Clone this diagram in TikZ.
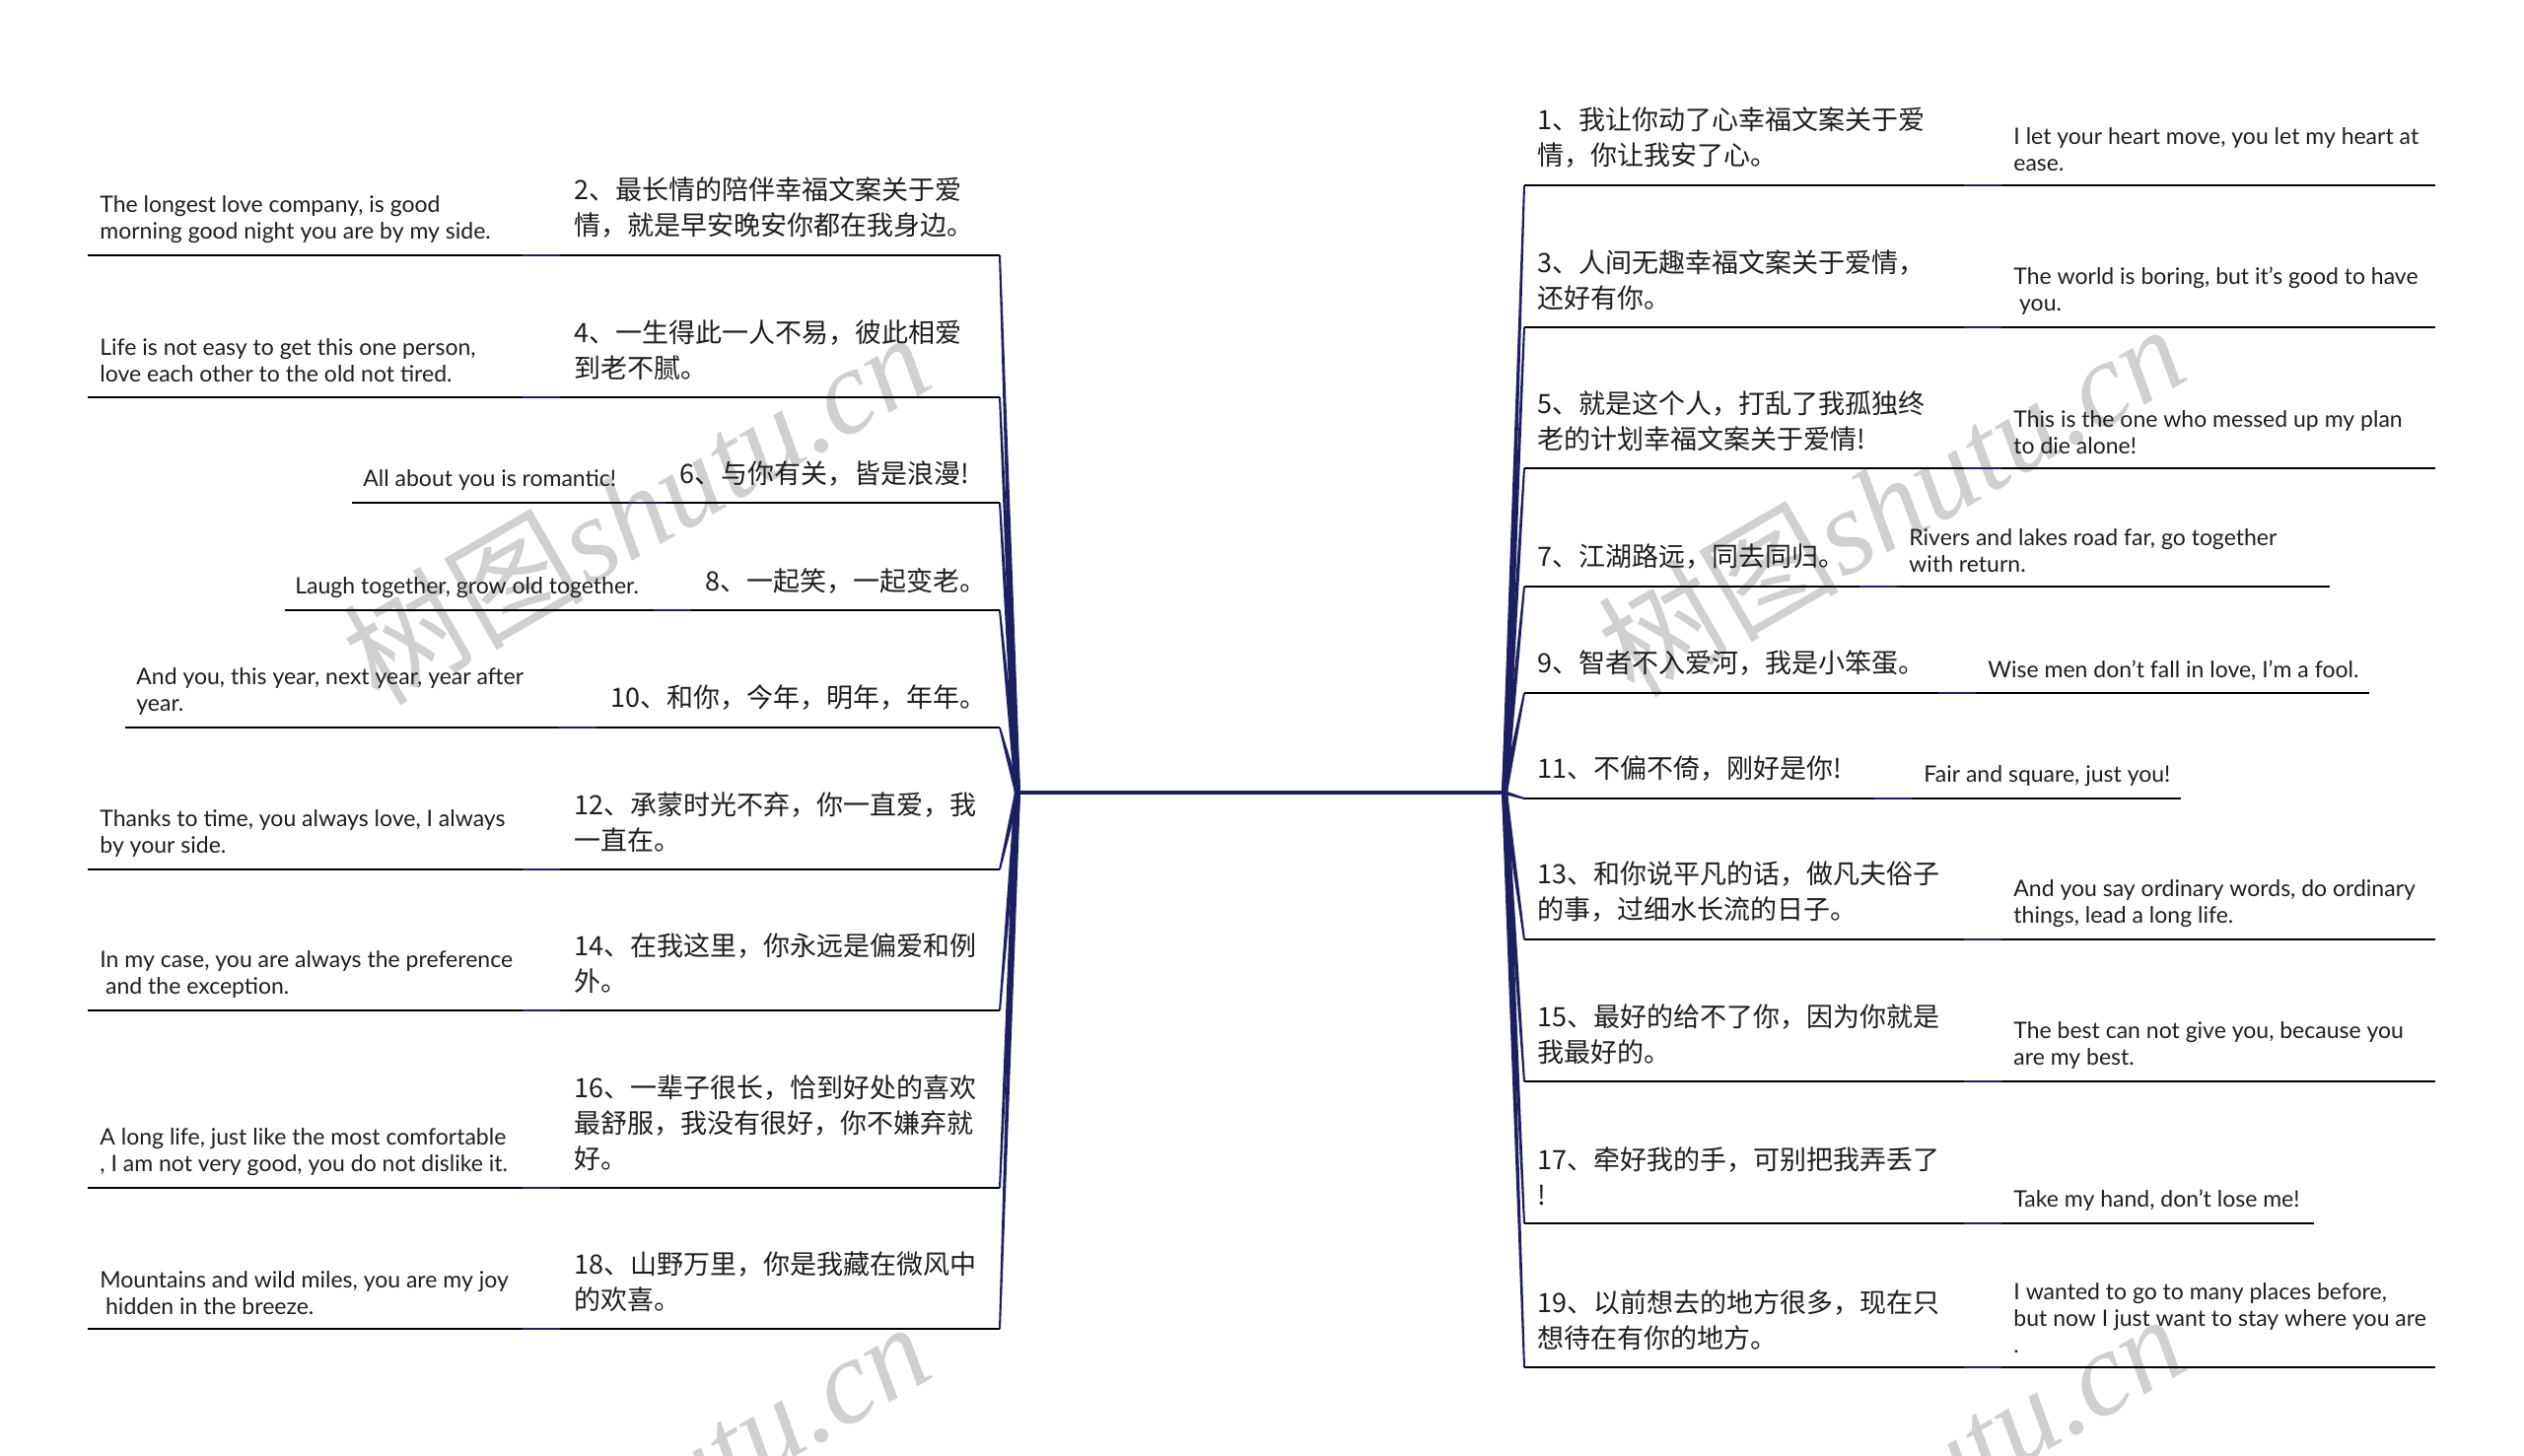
\documentclass[tikz,border=0pt]{standalone}
\usepackage{fontspec}
\setmainfont{Lato}
\newfontfamily\cjk{Noto Sans CJK SC}
\newfontfamily\wmserif{Liberation Serif}
\usetikzlibrary{calc}
\definecolor{navy}{RGB}{28,32,96}
\definecolor{txt}{RGB}{30,30,30}
\definecolor{wm}{RGB}{208,208,208}
\tikzset{
  cn/.style={font=\cjk\fontsize{13.5}{18}\selectfont, inner sep=0pt, align=left, anchor=west, text=txt},
  en/.style={font=\fontsize{11.5}{13.5}\selectfont, inner sep=0pt, align=left, anchor=west, text=txt},
  uline/.style={line width=1.3pt, black},
  link/.style={line width=1.3pt, navy},
  trunk/.style={line width=2pt, navy},
  wmark/.style={text=wm, rotate=30, inner sep=0pt},
}
\begin{document}
\begin{tikzpicture}[x=0.5pt,y=-0.5pt]
\useasboundingbox (0,0) rectangle (2560,1477);
\fill[white] (0,0) rectangle (2560,1477);
% watermark
\begin{scope}
\clip (0,0) rectangle (2560,1477);
\node[wmark] (wm1) at (645,514) {\cjk\fontsize{61}{61}\selectfont 树图\wmserif\itshape shutu.cn};
\node[wmark] (wm2) at (1918,506) {\cjk\fontsize{61}{61}\selectfont 树图\wmserif\itshape shutu.cn};
\node[wmark] (wm3) at (645,1518) {\cjk\fontsize{61}{61}\selectfont 树图\wmserif\itshape shutu.cn};
\node[wmark] (wm4) at (1918,1510) {\cjk\fontsize{61}{61}\selectfont 树图\wmserif\itshape shutu.cn};
\end{scope}

% hubs
\coordinate (hubL) at (1032,804);
\coordinate (hubR) at (1526,804);

% ---------------- left side ----------------
\coordinate (l2s) at (89,259);   \coordinate (l2e) at (1014,259);
\coordinate (l4s) at (89,403);   \coordinate (l4e) at (1014,403);
\coordinate (l6s) at (357,510);  \coordinate (l6e) at (1014,510);
\coordinate (l8s) at (289,619);  \coordinate (l8e) at (1014,619);
\coordinate (l10s) at (127,738); \coordinate (l10e) at (1014,738);
\coordinate (l12s) at (89,882);  \coordinate (l12e) at (1014,882);
\coordinate (l14s) at (89,1025); \coordinate (l14e) at (1014,1025);
\coordinate (l16s) at (89,1205); \coordinate (l16e) at (1014,1205);
\coordinate (l18s) at (89,1348); \coordinate (l18e) at (1014,1348);

\foreach \k in {2,4,6,8,10,12,14,16,18}{
  \fill[navy] ($(l\k e)+(-1,0)$) -- ($(hubL)+(-3,0)$) -- ($(hubL)+(3,0)$) -- ($(l\k e)+(1,0)$) -- cycle;
  \draw[uline] (l\k s) -- (l\k e);
}

\node[cn] (c2) at (582,211) {2、最长情的陪伴幸福文案关于爱\\情，就是早安晚安你都在我身边。};
\node[en] (e2) at (101,222.5) {The longest love company, is good\\morning good night you are by my side.};
\node[cn] (c4) at (582,355) {4、一生得此一人不易，彼此相爱\\到老不腻。};
\node[en] (e4) at (101,366) {Life is not easy to get this one person,\\love each other to the old not tired.};
\node[cn] (c6) at (689,480) {6、与你有关，皆是浪漫!};
\node[en] (e6) at (368,487) {All about you is romantic!};
\node[cn] (c8) at (715,589) {8、一起笑，一起变老。};
\node[en] (e8) at (299,596) {Laugh together, grow old together.};
\node[cn] (c10) at (619,708) {10、和你，今年，明年，年年。};
\node[en] (e10) at (138,701.5) {And you, this year, next year, year after\\year.};
\node[cn] (c12) at (582,834) {12、承蒙时光不弃，你一直爱，我\\一直在。};
\node[en] (e12) at (101,845.5) {Thanks to time, you always love, I always\\by your side.};
\node[cn] (c14) at (582,977) {14、在我这里，你永远是偏爱和例\\外。};
\node[en] (e14) at (101,988.5) {In my case, you are always the preference\\\hspace*{0.25em}and the exception.};
\node[cn] (c16) at (582,1139) {16、一辈子很长，恰到好处的喜欢\\最舒服，我没有很好，你不嫌弃就\\好。};
\node[en] (e16) at (101,1168.5) {A long life, just like the most comfortable\\, I am not very good, you do not dislike it.};
\node[cn] (c18) at (582,1300) {18、山野万里，你是我藏在微风中\\的欢喜。};
\node[en] (e18) at (101,1311.5) {Mountains and wild miles, you are my joy\\\hspace*{0.25em}hidden in the breeze.};

\foreach \k/\lx in {2/530,4/530,6/637,8/663,10/567,12/530,14/530,16/530,18/530}{
  \draw[link] (\lx,0 |- l\k e) -- (\lx+38,0 |- l\k e);
}

% ---------------- right side ----------------
\coordinate (r1s) at (1546,188);  \coordinate (r1e) at (2470,188);
\coordinate (r3s) at (1546,332);  \coordinate (r3e) at (2470,332);
\coordinate (r5s) at (1546,475);  \coordinate (r5e) at (2470,475);
\coordinate (r7s) at (1546,595);  \coordinate (r7e) at (2363,595);
\coordinate (r9s) at (1546,703);  \coordinate (r9e) at (2403,703);
\coordinate (r11s) at (1546,810); \coordinate (r11e) at (2212,810);
\coordinate (r13s) at (1546,953); \coordinate (r13e) at (2470,953);
\coordinate (r15s) at (1546,1097);\coordinate (r15e) at (2470,1097);
\coordinate (r17s) at (1546,1241);\coordinate (r17e) at (2347,1241);
\coordinate (r19s) at (1546,1387);\coordinate (r19e) at (2470,1387);

\foreach \k in {1,3,5,7,9,13,15,17,19}{
  \fill[navy] ($(r\k s)+(-1,0)$) -- ($(hubR)+(-3,0)$) -- ($(hubR)+(3,0)$) -- ($(r\k s)+(1,0)$) -- cycle;
  \draw[uline] (r\k s) -- (r\k e);
}
\fill[navy] ($(r11s)+(0,-1)$) -- ($(hubR)+(0,-2)$) -- ($(hubR)+(0,2)$) -- ($(r11s)+(0,1)$) -- cycle;
\draw[uline] (r11s) -- (r11e);

\draw[trunk] (hubL) -- (hubR);

\node[cn] (c1) at (1559,140) {1、我让你动了心幸福文案关于爱\\情，你让我安了心。};
\node[en] (e1) at (2042,151.5) {I let your heart move, you let my heart at\\ease.};
\node[cn] (c3) at (1559,284) {3、人间无趣幸福文案关于爱情，\\还好有你。};
\node[en] (e3) at (2042,295.5) {The world is boring, but it's good to have\\\hspace*{0.25em}you.};
\node[cn] (c5) at (1559,427) {5、就是这个人，打乱了我孤独终\\老的计划幸福文案关于爱情!};
\node[en] (e5) at (2042,438.5) {This is the one who messed up my plan\\to die alone!};
\node[cn] (c7) at (1559,565) {7、江湖路远，同去同归。};
\node[en] (e7) at (1936,558.5) {Rivers and lakes road far, go together\\with return.};
\node[cn] (c9) at (1559,673) {9、智者不入爱河，我是小笨蛋。};
\node[en] (e9) at (2016,680) {Wise men don't fall in love, I'm a fool.};
\node[cn] (c11) at (1559,780) {11、不偏不倚，刚好是你!};
\node[en] (e11) at (1951,787) {Fair and square, just you!};
\node[cn] (c13) at (1559,905) {13、和你说平凡的话，做凡夫俗子\\的事，过细水长流的日子。};
\node[en] (e13) at (2042,916.5) {And you say ordinary words, do ordinary\\things, lead a long life.};
\node[cn] (c15) at (1559,1049) {15、最好的给不了你，因为你就是\\我最好的。};
\node[en] (e15) at (2042,1060.5) {The best can not give you, because you\\are my best.};
\node[cn] (c17) at (1559,1193) {17、牵好我的手，可别把我弄丢了\\!};
\node[en] (e17) at (2042,1218) {Take my hand, don't lose me!};
\node[cn] (c19) at (1559,1339) {19、以前想去的地方很多，现在只\\想待在有你的地方。};
\node[en] (e19) at (2042,1337) {I wanted to go to many places before,\\but now I just want to stay where you are\\.};

\foreach \k/\lx in {1/1992,3/1992,5/1992,7/1886,9/1966,11/1901,13/1992,15/1992,17/1992,19/1992}{
  \draw[link] (\lx,0 |- r\k s) -- (\lx+38,0 |- r\k s);
}
\end{tikzpicture}
\end{document}
